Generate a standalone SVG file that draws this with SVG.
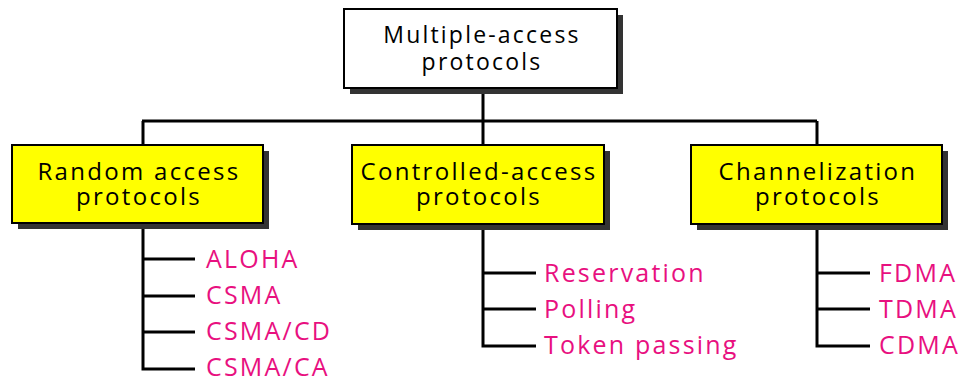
<svg xmlns="http://www.w3.org/2000/svg" width="966" height="381" viewBox="0 0 966 381">
<style>
.shadow{fill:#333333}
.box{stroke:#000;stroke-width:2}
.root{fill:#ffffff}
.cat{fill:#ffff00}
.t{font-family:"Open Sans","Liberation Sans",sans-serif;fill:#000;text-anchor:middle}
.t1{font-size:23px;letter-spacing:2.2px}
.t2{font-size:24px;letter-spacing:2.3px}
.leaf{font-family:"Open Sans","Liberation Sans",sans-serif;font-size:25px;fill:#e8107f;letter-spacing:2.2px}
.ln{stroke:#000;stroke-width:3;fill:none}
</style>
<g id="connectors">
<path class="ln" d="M483 88V121M142 121H817M143 121V145M483 121V145M817 121V145"/>
<path class="ln" d="M143 223V369H195M143 259H195M143 296H195M143 332H195"/>
<path class="ln" d="M483 224V346H536M483 273H536M483 309H536"/>
<path class="ln" d="M817 224V346H870M817 273H870M817 309H870"/>
</g>
<g id="root">
<rect class="shadow" x="350" y="15" width="273" height="79"/>
<rect class="box root" x="344" y="9" width="273" height="79"/>
<text class="t t1"><tspan x="482" y="43">Multiple-access</tspan><tspan x="482" y="70">protocols</tspan></text>
</g>
<g id="random">
<rect class="shadow" x="18" y="151" width="251" height="78"/>
<rect class="box cat" x="12" y="145" width="251" height="78"/>
<text class="t t2"><tspan x="139" y="180">Random access</tspan><tspan x="139" y="205">protocols</tspan></text>
</g>
<g id="controlled">
<rect class="shadow" x="358" y="151" width="252" height="79"/>
<rect class="box cat" x="352" y="145" width="252" height="79"/>
<text class="t t2"><tspan x="479" y="180">Controlled-access</tspan><tspan x="479" y="205">protocols</tspan></text>
</g>
<g id="channel">
<rect class="shadow" x="697" y="151" width="251" height="79"/>
<rect class="box cat" x="691" y="145" width="251" height="79"/>
<text class="t t2"><tspan x="818" y="180">Channelization</tspan><tspan x="818" y="205">protocols</tspan></text>
</g>
<g id="leaves-random">
<text class="leaf" x="206" y="268">ALOHA</text>
<text class="leaf" x="206" y="304">CSMA</text>
<text class="leaf" x="206" y="340">CSMA/CD</text>
<text class="leaf" x="206" y="376">CSMA/CA</text>
</g>
<g id="leaves-controlled">
<text class="leaf" x="544" y="282">Reservation</text>
<text class="leaf" x="544" y="318">Polling</text>
<text class="leaf" x="544" y="354">Token passing</text>
</g>
<g id="leaves-channel">
<text class="leaf" x="879" y="282">FDMA</text>
<text class="leaf" x="879" y="318">TDMA</text>
<text class="leaf" x="879" y="354">CDMA</text>
</g>
</svg>
